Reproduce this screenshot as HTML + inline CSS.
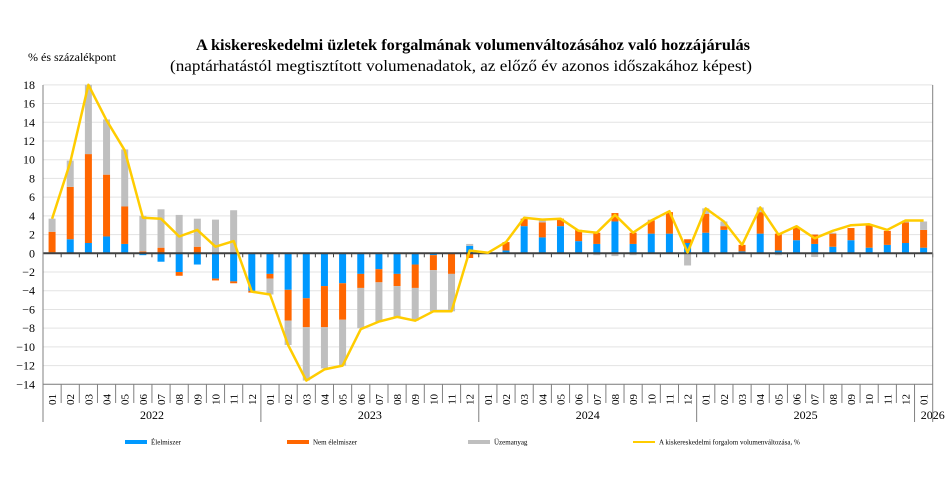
<!DOCTYPE html>
<html><head><meta charset="utf-8">
<style>
html,body{margin:0;padding:0;background:#fff;}
svg{display:block;font-family:"Liberation Serif",serif;}
</style></head>
<body>
<svg id="c" width="946" height="480" xmlns="http://www.w3.org/2000/svg"></svg>
<script>
const S=document.getElementById('c');
let h='';
const X0=43,X1=932.7,N=49,W=(X1-X0)/N;
const Z=253.3,K=9.36;
const y=v=>Z-v*K;
const cx=i=>X0+W*(i+0.5);
// title
h+=`<text x="196" y="50" font-size="16" font-weight="bold" textLength="554" lengthAdjust="spacingAndGlyphs">A kiskereskedelmi üzletek forgalmának volumenváltozásához való hozzájárulás</text>`;
h+=`<text x="170" y="71" font-size="16" textLength="582" lengthAdjust="spacingAndGlyphs">(naptárhatástól megtisztított volumenadatok, az előző év azonos időszakához képest)</text>`;
h+=`<text x="28" y="61" font-size="12">% és százalékpont</text>`;
// grid
for(let v=-14;v<=18;v+=2){
 if(v!==0)h+=`<line x1="${X0}" x2="${X1}" y1="${y(v)}" y2="${y(v)}" stroke="#e3e3e3" stroke-width="1"/>`;
 h+=`<text x="35" y="${y(v)+4}" font-size="12" text-anchor="end">${v<0?'−'+(-v):v}</text>`;
}
const D=[
[[0,0.1],[[0.1,2.3]],[[2.3,3.7]],3.7],
[[0,1.5],[[1.5,7.1]],[[7.1,9.9]],9.7],
[[0,1.1],[[1.1,10.6]],[[10.6,18]],18],
[[0,1.8],[[1.8,8.4]],[[8.4,14.3]],14.2],
[[0,1.0],[[1.0,5.0]],[[5.0,11.1]],11],
[[0,-0.2],[[0,0.2]],[[0.2,4.0]],3.8],
[[0,-0.9],[[0,0.6]],[[0.6,4.7]],3.7],
[[0,-2.0],[[-2.0,-2.4]],[[0,4.1]],1.8],
[[0,-1.2],[[0,0.7]],[[0.7,3.7]],2.5],
[[0,-2.7],[[-2.7,-2.9]],[[0,3.6]],0.7],
[[0,-3.0],[[-3.0,-3.2]],[[0,4.6]],1.3],
[[0,-4.0],[[-4.0,-4.2]],[],-4.1],
[[0,-2.2],[[-2.2,-2.7]],[[-2.7,-4.4]],-4.4],
[[0,-3.9],[[-3.9,-7.2]],[[-7.2,-9.8]],-9.8],
[[0,-4.8],[[-4.8,-7.9]],[[-7.9,-13.6]],-13.6],
[[0,-3.5],[[-3.5,-7.9]],[[-7.9,-12.3]],-12.4],
[[0,-3.2],[[-3.2,-7.1]],[[-7.1,-12.0]],-12],
[[0,-2.2],[[-2.2,-3.7]],[[-3.7,-8.0]],-8.1],
[[0,-1.7],[[-1.7,-3.1]],[[-3.1,-7.3]],-7.3],
[[0,-2.2],[[-2.2,-3.5]],[[-3.5,-6.8]],-6.8],
[[0,-1.2],[[-1.2,-3.7]],[[-3.7,-7.2]],-7.2],
[[0,-0.2],[[-0.2,-1.8]],[[-1.8,-6.2]],-6.2],
[[0,0],[[0,-2.2]],[[-2.2,-6.2]],-6.2],
[[0,0.8],[[0,-0.5]],[[0.8,1.0]],0.3],
[[0,0.05],[[0.05,0.1]],[],0.05],
[[0,0.3],[[0.3,1.2]],[],1.2],
[[0,2.9],[[2.9,3.7]],[],3.8],
[[0,1.7],[[1.7,3.3]],[[3.3,3.5]],3.6],
[[0,2.9],[[2.9,3.7]],[],3.7],
[[0,1.3],[[1.3,2.5]],[],2.4],
[[0,1.0],[[1.0,2.2]],[[0,-0.2]],2.2],
[[0,3.4],[[3.4,4.3]],[[0,-0.3]],4.1],
[[0,1.0],[[1.0,2.2]],[[0,-0.2]],2.2],
[[0,2.1],[[2.1,3.5]],[[3.5,3.6]],3.5],
[[0,2.1],[[2.1,4.4]],[],4.5],
[[0,1.1],[[1.1,1.5]],[[0,-1.3]],0.1],
[[0,2.2],[[2.2,4.2]],[[4.2,4.8]],4.8],
[[0,2.5],[[2.5,2.9]],[[2.9,3.4]],3.4],
[[0,0.2],[[0.2,0.9]],[],0.9],
[[0,2.1],[[2.1,4.4]],[[4.4,4.9]],4.9],
[[0,0.3],[[0.3,2.1]],[[0,-0.2]],2.0],
[[0,1.4],[[1.4,2.8]],[],2.9],
[[0,1.0],[[1.0,2.0]],[[0,-0.4]],1.6],
[[0,0.7],[[0.7,2.1]],[[2.1,2.2]],2.4],
[[0,1.4],[[1.4,2.7]],[],3.0],
[[0,0.6],[[0.6,3.0]],[],3.1],
[[0,0.9],[[0.9,2.4]],[],2.5],
[[0,1.1],[[1.1,3.3]],[[3.3,3.5]],3.5],
[[0,0.6],[[0.6,2.5]],[[2.5,3.4]],3.5]
];
const BW=7;
function seg(i,a,b,c){if(a===b)return;const t=Math.min(y(a),y(b)),hh=Math.abs(y(a)-y(b));h+=`<rect x="${cx(i)-BW/2}" y="${t}" width="${BW}" height="${hh}" fill="${c}"/>`;}
D.forEach((d,i)=>{
 seg(i,d[0][0],d[0][1],'#0099ff');
 d[1].forEach(s=>seg(i,s[0],s[1],'#ff6600'));
 d[2].forEach(s=>seg(i,s[0],s[1],'#bfbfbf'));
});
h+=`<line x1="${X0}" x2="${X1}" y1="${Z}" y2="${Z}" stroke="#404040" stroke-width="2"/>`;
for(let i=0;i<=N;i++){const x=X0+W*i;h+=`<line x1="${x}" x2="${x}" y1="${Z}" y2="${Z+4}" stroke="#404040" stroke-width="1"/>`;}
h+=`<polyline fill="none" stroke="#ffcc00" stroke-width="2.5" stroke-linejoin="round" points="${D.map((d,i)=>cx(i).toFixed(1)+','+y(d[3]).toFixed(1)).join(' ')}"/>`;
h+=`<line x1="${X0}" x2="${X0}" y1="85" y2="422" stroke="#808080" stroke-width="1"/>`;
h+=`<line x1="${X1}" x2="${X1}" y1="85" y2="422" stroke="#808080" stroke-width="1"/>`;
h+=`<line x1="${X0}" x2="${X1}" y1="384.3" y2="384.3" stroke="#808080" stroke-width="1"/>`;
for(let i=0;i<N;i++){
 const x=X0+W*i;
 const yr=(i%12===0);
 if(i>0)h+=`<line x1="${x}" x2="${x}" y1="384.3" y2="${yr?422:403}" stroke="#808080" stroke-width="1"/>`;
 const m=String(i%12+1).padStart(2,'0');
 h+=`<text transform="translate(${cx(i)+4},394) rotate(-90)" font-size="11" text-anchor="end">${m}</text>`;
}
['2022','2023','2024','2025'].forEach((t,k)=>{h+=`<text x="${X0+W*(12*k+6)}" y="419" font-size="12" text-anchor="middle">${t}</text>`;});
h+=`<text x="${X1-12}" y="419" font-size="12">2026</text>`;
const L=[[125,'#0099ff','Élelmiszer'],[287,'#ff6600','Nem élelmiszer'],[468,'#bfbfbf','Üzemanyag']];
L.forEach(l=>{h+=`<rect x="${l[0]}" y="440" width="22" height="4" fill="${l[1]}"/><text x="${l[0]+26}" y="444.5" font-size="7">${l[2]}</text>`;});
h+=`<line x1="633" x2="655" y1="442" y2="442" stroke="#ffcc00" stroke-width="2"/><text x="659" y="444.5" font-size="7">A kiskereskedelmi forgalom volumenváltozása, %</text>`;
S.innerHTML=h;
</script>
</body></html>
